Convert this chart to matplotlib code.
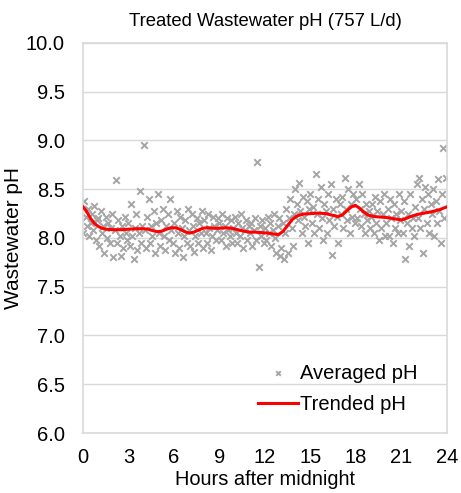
import numpy as np
import matplotlib
matplotlib.use("Agg")
import matplotlib.pyplot as plt

plt.rcParams["font.family"] = ["Liberation Sans", "DejaVu Sans"]

# 5-minute averaged pH, one row of 12 readings per hour
ph_by_hour = [
    [8.05, 8.38, 8.22, 8.12, 8.30, 8.02, 8.15, 8.25, 8.08, 8.33, 7.98, 8.18],
    [8.20, 7.92, 8.28, 8.05, 8.12, 7.85, 8.22, 8.00, 8.15, 7.95, 8.10, 8.25],
    [7.80, 8.08, 8.59, 7.95, 8.18, 8.02, 7.82, 8.12, 7.90, 8.22, 8.05, 7.98],
    [8.15, 7.92, 8.35, 8.02, 7.78, 8.10, 8.25, 7.88, 8.05, 8.48, 7.95, 8.12],
    [8.95, 8.08, 7.90, 8.22, 8.40, 7.95, 8.12, 8.02, 8.28, 7.85, 8.15, 8.45],
    [8.05, 7.92, 8.18, 8.30, 8.02, 7.88, 8.12, 8.25, 7.98, 8.40, 8.08, 7.95],
    [8.15, 7.85, 8.28, 8.05, 7.90, 8.22, 8.10, 7.80, 8.02, 8.18, 7.95, 8.30],
    [8.08, 7.92, 8.25, 8.12, 7.86, 8.02, 8.20, 7.95, 8.15, 8.05, 8.28, 7.90],
    [8.18, 8.05, 7.95, 8.25, 8.10, 7.88, 8.02, 8.22, 8.12, 7.98, 8.08, 8.20],
    [8.15, 7.98, 8.25, 8.05, 8.12, 7.92, 8.20, 8.08, 8.02, 8.18, 7.95, 8.10],
    [8.22, 8.05, 7.95, 8.15, 8.02, 8.25, 8.10, 7.90, 8.08, 8.18, 7.98, 8.12],
    [8.05, 8.15, 7.92, 8.08, 8.20, 7.98, 8.78, 7.70, 8.12, 8.02, 8.18, 7.95],
    [8.10, 7.98, 8.22, 8.05, 8.15, 7.92, 8.08, 8.25, 8.00, 7.85, 8.12, 8.20],
    [7.82, 7.90, 8.15, 7.78, 8.05, 8.30, 7.85, 8.20, 8.40, 8.10, 7.92, 8.25],
    [8.50, 8.35, 8.18, 8.56, 8.28, 8.05, 8.42, 8.22, 8.12, 8.38, 7.95, 8.30],
    [8.45, 8.15, 8.32, 8.05, 8.66, 8.25, 8.40, 8.10, 8.52, 8.20, 7.98, 8.35],
    [8.28, 8.05, 8.45, 8.18, 8.55, 7.83, 8.30, 8.12, 8.40, 8.22, 7.95, 8.35],
    [8.25, 8.42, 8.10, 8.62, 8.30, 8.18, 8.50, 8.05, 8.35, 8.22, 8.45, 8.15],
    [8.40, 8.20, 8.55, 8.30, 8.12, 8.45, 8.25, 8.05, 8.35, 8.18, 8.28, 8.10],
    [8.22, 8.35, 8.05, 8.42, 8.15, 8.28, 7.98, 8.38, 8.10, 8.25, 8.45, 8.02],
    [8.15, 8.30, 8.02, 8.40, 8.20, 7.95, 8.35, 8.10, 8.25, 8.05, 8.45, 8.18],
    [8.28, 8.05, 8.38, 7.78, 8.15, 8.25, 7.92, 8.45, 8.10, 8.20, 8.02, 8.32],
    [8.55, 8.20, 8.62, 8.10, 8.40, 7.85, 8.30, 8.52, 8.15, 8.45, 8.05, 8.35],
    [8.25, 8.50, 8.02, 8.38, 8.15, 8.60, 8.28, 7.95, 8.45, 8.92, 8.20, 8.62],
]

# trend line
trend_hours = [0, 0.25, 0.5, 0.75, 1, 1.25, 1.5, 2, 2.5, 3, 3.5, 4, 4.3, 4.6,
               4.9, 5.2, 5.5, 5.8, 6.1, 6.4, 6.7, 7.0, 7.3, 7.6, 7.9, 8.2, 8.6,
               9.0, 9.4, 9.8, 10.2, 10.6, 11.0, 11.4, 11.8, 12.2, 12.6, 12.9,
               13.2, 13.5, 13.8, 14.1, 14.5, 15, 15.5, 16, 16.4, 16.8, 17.1,
               17.4, 17.7, 17.95, 18.2, 18.5, 18.8, 19.2, 19.6, 20, 20.4, 20.8,
               21.0, 21.3, 21.6, 22, 22.5, 23, 23.5, 24]
trend_ph = [8.32, 8.27, 8.20, 8.15, 8.12, 8.10, 8.09, 8.085, 8.085, 8.09,
            8.095, 8.095, 8.09, 8.075, 8.065, 8.07, 8.09, 8.105, 8.105, 8.09,
            8.065, 8.05, 8.06, 8.08, 8.10, 8.105, 8.10, 8.10, 8.105, 8.10,
            8.085, 8.07, 8.06, 8.06, 8.055, 8.05, 8.04, 8.035, 8.07, 8.13,
            8.19, 8.225, 8.245, 8.25, 8.255, 8.25, 8.235, 8.22, 8.235, 8.28,
            8.32, 8.335, 8.31, 8.27, 8.235, 8.22, 8.215, 8.21, 8.20, 8.19,
            8.185, 8.20, 8.22, 8.24, 8.255, 8.27, 8.29, 8.32]

ph = np.array(ph_by_hour).ravel()
hours = np.arange(len(ph)) / 12.0

fig = plt.figure(figsize=(4.61, 4.93), dpi=100)
ax = fig.add_axes([0.18, 0.1217, 0.7896, 0.7911])

ax.scatter(hours, ph, marker="x", s=22, color="#A5A5A5", linewidths=1.4,
           label="Averaged pH", zorder=2)
ax.plot(trend_hours, trend_ph, color="#FF0000", lw=2.2, label="Trended pH",
        zorder=3, solid_joinstyle="round")

ax.set_xlim(0, 24)
ax.set_ylim(6.0, 10.0)
ax.set_xticks(range(0, 25, 3))
ax.set_yticks(np.arange(6.0, 10.01, 0.5))
ax.set_yticklabels([f"{v:.1f}" for v in np.arange(6.0, 10.01, 0.5)])
ax.tick_params(axis="y", length=0, labelsize=14.5, pad=13)
ax.tick_params(axis="x", length=0, labelsize=14.5, pad=11)
ax.grid(axis="y", color="#D9D9D9", lw=1)
ax.set_axisbelow(True)
for s in ax.spines.values():
    s.set_color("#D9D9D9")
    s.set_linewidth(1.2)

ax.set_title("Treated Wastewater pH (757 L/d)", fontsize=13.3, pad=12)
ax.set_xlabel("Hours after midnight", fontsize=14.4, labelpad=2)
ax.set_ylabel("Wastewater pH", fontsize=15, labelpad=2)

ax.legend(loc="lower right", bbox_to_anchor=(0.97, 0.003), frameon=False,
          fontsize=14.5, handlelength=2.0, labelspacing=0.6,
          handletextpad=0.1, markerscale=0.7)

fig.savefig("out.png", dpi=100)
